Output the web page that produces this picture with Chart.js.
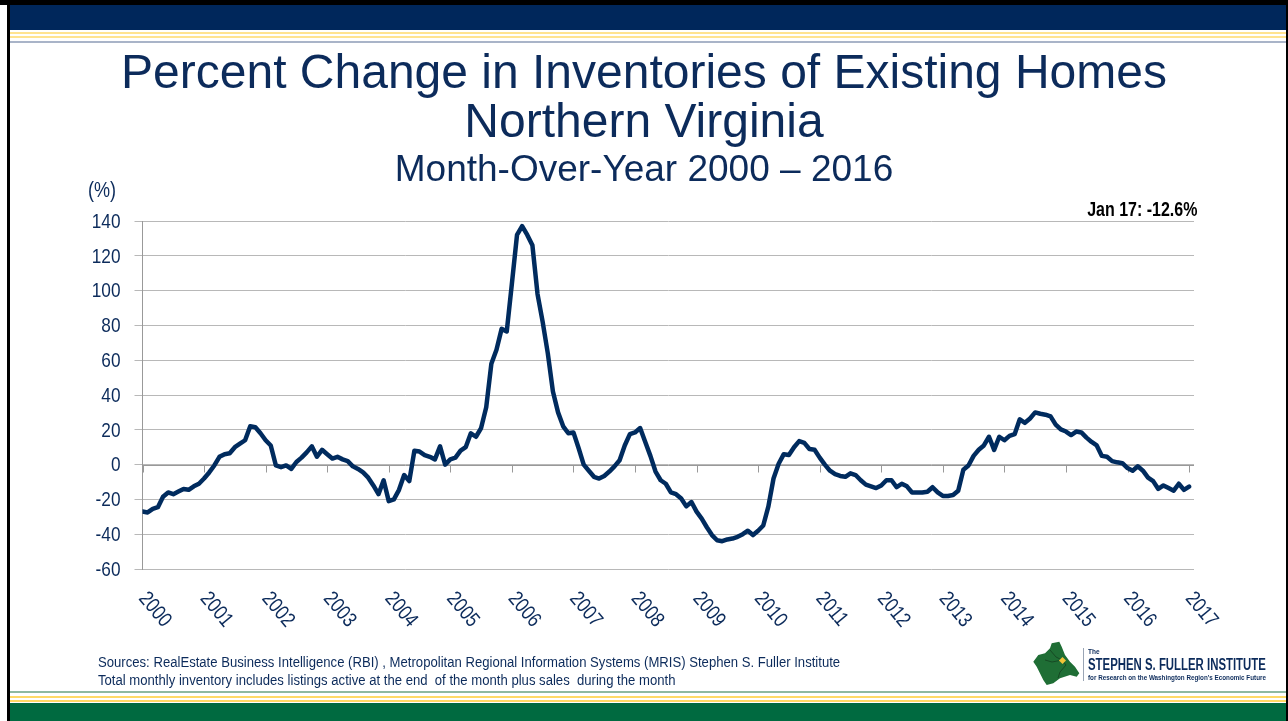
<!DOCTYPE html>
<html>
<head>
<meta charset="utf-8">
<script src="https://cdn.jsdelivr.net/npm/chart.js@4.4.1/dist/chart.umd.min.js"></script>
<style>
  body { margin: 0; background: #fff; }
  #slide { position: relative; width: 1288px; height: 721px; overflow: hidden; background: #fff;
           font-family: "Liberation Sans", Arial, sans-serif; color: #0c2b5b; }
  #slide div { position: absolute; white-space: nowrap; }
  canvas { position: absolute; left: 0; top: 0; }
  .narrow { transform-origin: 0 0; transform: scaleX(0.82); }
  .title { left: 0; width: 1288px; text-align: center; }
</style>
</head>
<body>
<div id="slide">
  <canvas id="chart" width="1288" height="721"></canvas>

  <!-- header bars -->
  <div style="left:0;top:0;width:1288px;height:5px;background:#000"></div>
  <div style="left:10px;top:5px;width:1276px;height:25px;background:#00275b"></div>
  <div style="left:10px;top:32px;width:1276px;height:2px;background:#ffe390"></div>
  <div style="left:10px;top:36px;width:1276px;height:2px;background:#ffe390"></div>
  <div style="left:10px;top:41px;width:1276px;height:2px;background:#a9b4c8"></div>
  <div style="left:7px;top:0;width:3px;height:721px;background:#000"></div>
  <div style="left:1286px;top:0;width:2px;height:721px;background:#000"></div>

  <!-- titles -->
  <div class="title" style="top:48px;font-size:48px;line-height:48px">Percent Change in Inventories of Existing Homes</div>
  <div class="title" style="top:97px;font-size:48px;line-height:48px">Northern Virginia</div>
  <div class="title" style="top:150px;font-size:37px;line-height:37px">Month-Over-Year 2000 – 2016</div>

  <div class="narrow" style="left:88px;top:178px;font-size:22px;line-height:24px">(%)</div>
  <div id="latest" style="right:91px;top:198px;font-size:19.5px;line-height:22px;font-weight:bold;color:#000;transform-origin:100% 0;transform:scaleX(0.82)"></div>

  <!-- footer -->
  <div id="src1" style="left:98px;top:654px;font-size:14px;line-height:17px;transform-origin:0 0">Sources: RealEstate Business Intelligence (RBI) , Metropolitan Regional Information Systems (MRIS) Stephen S. Fuller Institute</div>
  <div id="src2" style="left:98px;top:672px;font-size:14px;line-height:17px;transform-origin:0 0">Total monthly inventory includes listings active at the end&nbsp; of the month plus sales&nbsp; during the month</div>

  <div style="left:10px;top:691px;width:1276px;height:2px;background:#8fb8a0"></div>
  <div style="left:10px;top:696px;width:1276px;height:2px;background:#ffd966"></div>
  <div style="left:10px;top:700px;width:1276px;height:2px;background:#ffd966"></div>
  <div style="left:10px;top:703px;width:1276px;height:18px;background:#006a40"></div>

  <!-- logo -->
  <svg style="position:absolute;left:0;top:0" width="1288" height="721">
    <polygon fill="#1f6e35" points="1051.7,643.3 1059.3,641.7 1061.7,646.7 1065,655 1070,661.7 1075,666.7 1079.3,673.3 1076.7,676.7 1070,675 1060,678.3 1053.3,683.3 1046.7,685 1043.3,680 1036.7,666.7 1033.3,661.7 1038.3,655 1045,653.3 1050,648.3"/>
    <polyline fill="none" stroke="#14401f" stroke-width="0.8" points="1050,650 1056,657 1062,660 1066,665 1060,672 1058,678"/>
    <polyline fill="none" stroke="#14401f" stroke-width="0.8" points="1045,660 1052,662 1062,660"/>
    <rect x="1060" y="658" width="5" height="5" fill="#f2c438" transform="rotate(45 1062.5 660.5)"/>
    <line x1="1083.5" y1="648" x2="1083.5" y2="681" stroke="#9aa5b5" stroke-width="1"/>
  </svg>
  <div style="left:1088px;top:648px;font-size:6.5px;line-height:7px;font-weight:bold">The</div>
  <div id="logo1" style="left:1088px;top:656px;font-size:16px;line-height:18px;font-weight:bold;transform-origin:0 0">STEPHEN S. FULLER INSTITUTE</div>
  <div id="logo2" style="left:1088px;top:674px;font-size:7.5px;line-height:8px;font-weight:bold;transform-origin:0 0">for Research on the Washington Region's Economic Future</div>
</div>

<script>
// tick labels
const tickYears = ["2000", "2001", "2002", "2003", "2004", "2005", "2006", "2007", "2008",
  "2009", "2010", "2011", "2012", "2013", "2014", "2015", "2016", "2017"];
const yTickValues = [-60, -40, -20, 0, 20, 40, 60, 80, 100, 120, 140];
const latestLabel = "Jan 17: -12.6%";

// month-over-year % change, Jan 2000 .. Jan 2017
const pctChange = [
  -27, -27.5, -25.5, -24.5, -18.5, -16, -17, -15.5, -14, -14.5, -12.5, -11,   // 2000
  -8, -4.5, -0.5, 4.5, 6, 6.5, 10, 12, 14, 22, 21.5, 18,                     // 2001
  14, 11, -0.5, -1.5, -0.5, -2.5, 1.5, 4, 7, 10.5, 4.5, 8.5,                 // 2002
  6, 3.5, 4.5, 3, 2, -1, -2.5, -4.5, -7.5, -12, -17, -9,                      // 2003
  -21, -20, -14.5, -6, -9.5, 8, 7.5, 5.5, 4.5, 3, 10.5, 0,                    // 2004
  3, 4, 8, 10, 18, 16, 21, 33, 58, 66, 78, 76.5,                              // 2005
  104, 132, 137, 132, 126, 98, 82, 64, 42, 30, 22, 18,                        // 2006
  18.5, 9.5, 0, -3.5, -7, -8, -6.5, -4, -1, 2.5, 11, 17.5,                    // 2007
  18.5, 21, 13, 5, -4, -9, -11, -16, -17, -19.5, -24, -21.5,                  // 2008
  -27, -31, -36, -40.5, -43.5, -44, -43, -42.5, -41.5, -40, -38, -40.5,       // 2009
  -38, -35, -24, -8, 0.5, 6, 5.5, 10, 13.5, 12.5, 9, 8.5,                     // 2010
  4, 0, -3.5, -5.5, -6.5, -7, -5, -6, -9, -11.5, -12.5, -13.5,                // 2011
  -12, -9, -9, -13, -11, -12.5, -16, -16, -16, -15.6, -13, -16,               // 2012
  -18, -18, -17.5, -15, -3, -0.5, 5, 8.5, 11, 16, 8.5, 16,                    // 2013
  14, 16.5, 17.5, 26, 24, 26.5, 30, 29.2, 28.7, 27.7, 23, 20.2,               // 2014
  19, 17, 19, 18.5, 15.5, 13, 11, 5, 4.5, 2, 1.3, 0.8,                        // 2015
  -2, -3.5, -1, -3.5, -7.5, -9.5, -14, -12, -13.5, -15, -11, -14.5,           // 2016
  -12.6                                                                        // Jan 2017
];

const navy = "#0c2b5b";
const narrowX = 0.82; // Arial Narrow look from Liberation Sans
const firstYear = Number(tickYears[0]);
const lastYear = Number(tickYears[tickYears.length - 1]);
const points = pctChange.map((v, i) => ({ x: firstYear + i / 12, y: v }));

document.getElementById("latest").textContent = latestLabel;

// squeeze a text block to a given width
function fitWidth(id, w) {
  const el = document.getElementById(id);
  const s = w / el.offsetWidth;
  el.style.transform = "scaleX(" + s + ")";
  return s;
}
const srcScale = fitWidth("src1", 742);
document.getElementById("src2").style.transform = "scaleX(" + srcScale + ")";
fitWidth("logo1", 178);
fitWidth("logo2", 178);

function narrowText(ctx, text, x, y, angle) {
  ctx.save();
  ctx.translate(x, y);
  if (angle) ctx.rotate(angle);
  ctx.scale(narrowX, 1);
  ctx.fillText(text, 0, 0);
  ctx.restore();
}

// x axis sits on the zero line, year labels rotated below the plot; narrow y labels
const axisText = {
  id: "axisText",
  beforeDatasetsDraw(chart) {
    const { ctx, scales: { x, y } } = chart;
    const y0 = Math.round(y.getPixelForValue(0)) + 0.5;
    ctx.save();
    ctx.strokeStyle = "#999";
    ctx.lineWidth = 1;
    ctx.beginPath();
    ctx.moveTo(x.left, y0);
    ctx.lineTo(x.right, y0);
    tickYears.forEach(t => {
      const px = Math.round(x.getPixelForValue(Number(t))) + 0.5;
      ctx.moveTo(px, y0);
      ctx.lineTo(px, y0 + 7);
    });
    ctx.stroke();
    ctx.restore();
  },
  afterDraw(chart) {
    const { ctx, scales: { x, y } } = chart;
    ctx.save();
    ctx.fillStyle = navy;
    ctx.font = '21px "Liberation Sans", Arial, sans-serif';
    ctx.textBaseline = "middle";
    ctx.textAlign = "left";
    tickYears.forEach(t => {
      narrowText(ctx, t, x.getPixelForValue(Number(t)), y.bottom + 26, 50 * Math.PI / 180);
    });
    ctx.textAlign = "right";
    yTickValues.forEach(v => {
      narrowText(ctx, String(v), y.right - 22, y.getPixelForValue(v) + 1);
    });
    ctx.restore();
  }
};

new Chart(document.getElementById("chart"), {
  type: "line",
  data: {
    datasets: [{
      data: points,
      borderColor: "#002b5e",
      borderWidth: 4.5,
      pointRadius: 0,
      tension: 0,
      borderJoinStyle: "round",
      borderCapStyle: "round"
    }]
  },
  options: {
    responsive: false,
    animation: false,
    devicePixelRatio: 1,
    layout: { padding: { left: 0, top: 221, right: 94, bottom: 0 } },
    plugins: { legend: { display: false }, tooltip: { enabled: false } },
    scales: {
      x: {
        type: "linear",
        min: firstYear,
        max: lastYear + 0.08,
        grid: { display: false },
        border: { display: false },
        ticks: { display: false },
        afterFit: s => { s.height = 152; }
      },
      y: {
        min: yTickValues[0],
        max: yTickValues[yTickValues.length - 1],
        ticks: { stepSize: 20, display: false },
        grid: { color: "#b8b8b8", lineWidth: 1, tickLength: 8 },
        border: { color: "#999", width: 1 },
        afterFit: s => { s.width = 142.5; }
      }
    }
  },
  plugins: [axisText]
});
</script>
</body>
</html>
